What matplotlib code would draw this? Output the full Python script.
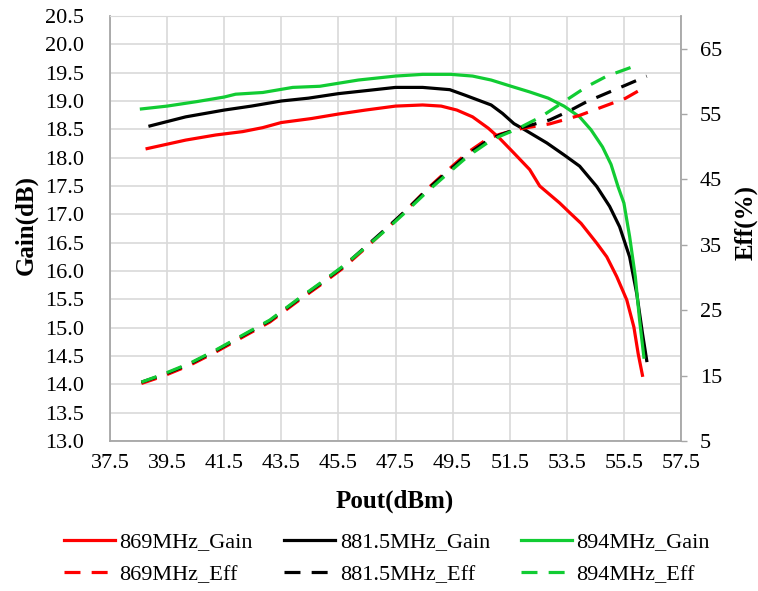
import numpy as np
import matplotlib
matplotlib.use('Agg')
import matplotlib.pyplot as plt
from matplotlib.lines import Line2D

plt.rcParams['font.family'] = ['Liberation Serif', 'DejaVu Serif']

# gain curves (Pout dBm, Gain dB)
x_g869 = [38.8, 40.15, 41.2, 42.15, 42.85, 43.5, 44.55, 45.5, 46.45, 47.5, 48.45,
          49.1, 49.65, 50.2, 50.75, 51.15, 51.65, 52.2, 52.55, 53.25, 53.6, 54.0,
          54.55, 54.9, 55.25, 55.6, 55.85, 56.0, 56.15]
g869 = [18.16, 18.31, 18.40, 18.46, 18.53, 18.62, 18.69, 18.77, 18.84, 18.91, 18.93,
        18.91, 18.84, 18.72, 18.52, 18.34, 18.08, 17.79, 17.50, 17.20, 17.03, 16.84,
        16.49, 16.25, 15.90, 15.49, 15.01, 14.54, 14.16]

x_g881 = [38.9, 40.15, 41.5, 42.45, 43.5, 44.45, 45.5, 46.6, 47.5, 48.45, 49.4,
          49.95, 50.85, 51.25, 51.65, 52.0, 52.8, 53.4, 53.95, 54.55, 55.0, 55.35,
          55.7, 55.95, 56.15, 56.3]
g881 = [18.56, 18.72, 18.84, 18.91, 19.00, 19.05, 19.13, 19.19, 19.24, 19.24, 19.20,
        19.10, 18.93, 18.78, 18.60, 18.50, 18.26, 18.05, 17.85, 17.49, 17.14, 16.78,
        16.25, 15.60, 14.90, 14.42]

x_g894 = [38.6, 39.5, 40.55, 41.5, 41.9, 42.85, 43.9, 44.85, 46.2, 47.5, 48.45,
          49.45, 50.2, 50.85, 51.55, 52.2, 52.85, 53.4, 53.95, 54.35, 54.75, 55.05,
          55.3, 55.5, 55.7, 55.9, 56.05, 56.2]
g894 = [18.86, 18.91, 18.99, 19.07, 19.12, 19.15, 19.24, 19.26, 19.37, 19.44, 19.47,
        19.47, 19.44, 19.37, 19.26, 19.16, 19.05, 18.91, 18.72, 18.49, 18.19, 17.88,
        17.48, 17.20, 16.61, 15.90, 15.13, 14.48]

# efficiency curves (Pout dBm, Eff %)
x_e869 = [38.6, 39.35, 40.3, 41.2, 42.15, 43.1, 44.05, 44.85, 45.65, 46.45, 47.25,
          47.9, 48.6, 49.25, 50.05, 50.75, 51.15, 51.8, 52.9, 53.95, 54.75, 55.55, 56.15]
e869 = [13.8, 14.9, 16.6, 18.6, 20.9, 23.2, 26.3, 28.8, 31.4, 34.5, 37.7,
        40.4, 43.5, 46.1, 49.2, 51.3, 51.9, 52.7, 53.5, 54.8, 56.1, 57.4, 58.9]

x_e881 = [38.6, 39.35, 40.3, 41.2, 42.15, 43.1, 44.05, 44.85, 45.65, 46.45, 47.25,
          47.9, 48.6, 49.25, 50.05, 50.75, 51.15, 51.8, 52.9, 53.55, 54.2, 54.9, 55.55, 56.3]
e881 = [14.0, 15.1, 16.8, 18.8, 21.1, 23.4, 26.5, 29.0, 31.6, 34.7, 37.8,
        40.4, 43.4, 45.9, 48.9, 51.0, 51.8, 52.8, 54.1, 55.4, 56.9, 58.2, 59.4, 60.8]

x_e894 = [38.6, 39.35, 40.3, 41.2, 42.15, 43.1, 44.05, 44.85, 45.65, 46.45, 47.25,
          47.9, 48.6, 49.25, 50.05, 50.75, 51.15, 51.8, 52.6, 53.4, 54.2, 54.9, 55.85]
e894 = [14.0, 15.2, 16.9, 18.9, 21.2, 23.5, 26.6, 29.1, 31.7, 34.6, 37.6,
        40.2, 43.1, 45.6, 48.6, 50.7, 51.6, 52.8, 54.6, 56.9, 59.2, 60.8, 62.3]

x_ticks = [37.5, 39.5, 41.5, 43.5, 45.5, 47.5, 49.5, 51.5, 53.5, 55.5, 57.5]
gain_ticks = np.arange(13.0, 20.51, 0.5)
eff_ticks = [5, 15, 25, 35, 45, 55, 65]

red = '#FF0000'
black = '#000000'
green = '#11CC33'
lw = 2.3
dash = (0, (5, 3.5))

fig = plt.figure(figsize=(7.58, 5.91), dpi=100)
ax = fig.add_axes([110/758, 1-441/591, 571/758, 425/591])
ax2 = ax.twinx()

ax.plot(x_g869, g869, color=red, lw=lw)
ax.plot(x_g881, g881, color=black, lw=lw)
ax.plot(x_g894, g894, color=green, lw=lw)
ax2.plot(x_e869, e869, color=red, lw=lw, linestyle=dash)
ax2.plot(x_e881, e881, color=black, lw=lw, linestyle=dash)
ax2.plot(x_e894, e894, color=green, lw=lw, linestyle=dash)

ax.set_xlim(37.5, 57.5)
ax.set_ylim(13.0, 20.5)
ax2.set_ylim(5, 70)
ax.set_xticks(x_ticks)
ax.set_xticklabels(['%.1f' % v for v in x_ticks])
ax.set_yticks(gain_ticks)
ax.set_yticklabels(['%.1f' % v for v in gain_ticks])
ax2.set_yticks(eff_ticks)

ax.grid(True, color='#D9D9D9', lw=1.2)
ax.set_axisbelow(True)
ax.tick_params(axis='both', length=0, labelsize=16)
ax.tick_params(axis='y', pad=19)
ax.tick_params(axis='x', pad=9)
ax2.tick_params(axis='y', length=4.5, width=1, color='#A6A6A6', pad=9, labelsize=16)

for s in ['left', 'bottom']:
    ax.spines[s].set_color('#A6A6A6')
    ax.spines[s].set_linewidth(1.3)
ax.spines['top'].set_color('#D9D9D9')
ax.spines['right'].set_visible(False)
for s in ['left', 'top', 'bottom']:
    ax2.spines[s].set_visible(False)
ax2.spines['right'].set_color('#A6A6A6')
ax2.spines['right'].set_linewidth(1.3)

fig.text(26/758, 1-225/591, 'Gain(dB)', rotation=90, ha='center', va='center',
         fontsize=18, fontweight='bold')
fig.text(746/758, 1-222/591, 'Eff(%)', rotation=90, ha='center', va='center',
         fontsize=18, fontweight='bold')
fig.text(395/758, 1-501/591, 'Pout(dBm)', ha='center', va='center',
         fontsize=18, fontweight='bold')

handles = [
    Line2D([], [], color=red, lw=lw), Line2D([], [], color=red, lw=lw, linestyle=dash),
    Line2D([], [], color=black, lw=lw), Line2D([], [], color=black, lw=lw, linestyle=dash),
    Line2D([], [], color=green, lw=lw), Line2D([], [], color=green, lw=lw, linestyle=dash),
]
labels = ['869MHz_Gain', '869MHz_Eff', '881.5MHz_Gain', '881.5MHz_Eff',
          '894MHz_Gain', '894MHz_Eff']
fig.legend(handles, labels, loc='center', bbox_to_anchor=(387/758, 1-558.5/591),
           ncol=3, frameon=False, fontsize=16, handlelength=2.3, handletextpad=0.2,
           columnspacing=1.4, labelspacing=0.55, borderpad=0)

fig.savefig('out.png', dpi=100)
